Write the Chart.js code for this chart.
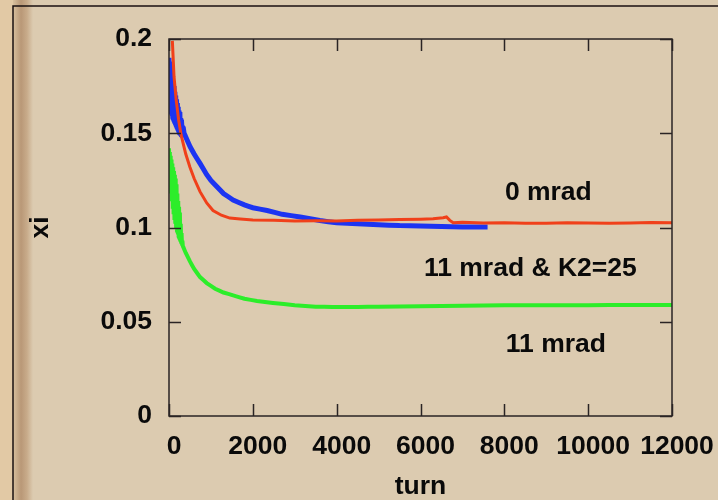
<!DOCTYPE html>
<html>
<head>
<meta charset="utf-8">
<script src="https://cdn.jsdelivr.net/npm/chart.js@4"></script>
<style>
html,body{margin:0;padding:0;background:#dccbb0;}
#wrap{width:718px;height:500px;position:relative;}
</style>
</head>
<body>
<div id="wrap"><canvas id="c" width="718" height="500"></canvas></div>
<script>
// ---- data ----
const xTickValues = [0, 2000, 4000, 6000, 8000, 10000, 12000];
const yTickValues = [0, 0.05, 0.1, 0.15, 0.2];
const yTickLabels = ['0', '0.05', '0.1', '0.15', '0.2'];

// 0 mrad (red)
const redTurns  = [80, 120, 170, 230, 290, 400, 500, 600, 740, 900, 1050, 1250, 1450, 1700, 2000, 2500, 3000, 3500, 4000, 4500, 5000, 5500, 6000, 6300, 6540, 6620, 6700, 6780, 7000, 7500, 8000, 8500, 9000, 9500, 10000, 10500, 11000, 11500, 12000];
const redXi     = [0.199, 0.180, 0.168, 0.157, 0.149, 0.139, 0.132, 0.126, 0.119, 0.113, 0.109, 0.1065, 0.105, 0.1045, 0.104, 0.1038, 0.1035, 0.1036, 0.1035, 0.1038, 0.104, 0.1042, 0.1044, 0.1046, 0.1052, 0.1056, 0.1038, 0.1025, 0.1028, 0.1024, 0.1025, 0.1022, 0.1023, 0.1025, 0.1024, 0.1022, 0.1024, 0.1026, 0.1025];

// 11 mrad & K2=25 (blue) - noisy band at the start
const blueTurns = [0, 10, 20, 30, 40, 50, 60, 70, 80, 90, 100, 110, 120, 130, 140, 150, 160, 170, 180, 190, 200, 210, 220, 230, 240, 250, 260, 270, 280, 290, 300, 320, 340, 360, 400, 500, 600, 740, 900, 1000, 1150, 1300, 1530, 1800, 2000, 2340, 2700, 3130, 3600, 4000, 4500, 5000, 5500, 6000, 6500, 7000, 7600];
const blueXi    = [0.190, 0.165, 0.188, 0.163, 0.186, 0.161, 0.184, 0.160, 0.180, 0.158, 0.177, 0.157, 0.175, 0.156, 0.172, 0.155, 0.170, 0.154, 0.168, 0.153, 0.166, 0.152, 0.164, 0.151, 0.162, 0.150, 0.160, 0.150, 0.158, 0.149, 0.156, 0.149, 0.153, 0.150, 0.148, 0.143, 0.139, 0.134, 0.128, 0.125, 0.1215, 0.118, 0.1146, 0.112, 0.1105, 0.109, 0.107, 0.1056, 0.1037, 0.1025, 0.102, 0.1015, 0.101, 0.1008, 0.1005, 0.1003, 0.1003];

// 11 mrad (green) - noisy band at the start
const greenTurns = [0, 10, 20, 30, 40, 50, 60, 70, 80, 90, 100, 110, 120, 130, 140, 150, 160, 170, 180, 190, 200, 210, 220, 230, 240, 250, 260, 270, 280, 290, 300, 310, 320, 330, 340, 400, 500, 600, 740, 900, 1100, 1300, 1530, 1800, 2100, 2480, 3000, 3500, 3900, 4500, 5000, 6000, 7000, 8000, 9000, 10000, 11000, 12000];
const greenXi    = [0.142, 0.126, 0.140, 0.122, 0.138, 0.118, 0.136, 0.114, 0.134, 0.110, 0.132, 0.107, 0.130, 0.104, 0.128, 0.102, 0.126, 0.100, 0.123, 0.098, 0.118, 0.097, 0.114, 0.095, 0.111, 0.094, 0.108, 0.093, 0.102, 0.092, 0.097, 0.091, 0.093, 0.090, 0.0897, 0.0865, 0.082, 0.078, 0.0737, 0.0705, 0.0675, 0.0655, 0.064, 0.0622, 0.061, 0.060, 0.0588, 0.058, 0.0578, 0.0578, 0.058, 0.0582, 0.0585, 0.0587, 0.0588, 0.0588, 0.0589, 0.0589];

const seriesNames = ['0 mrad', '11 mrad & K2=25', '11 mrad'];
// annotation anchor positions (turn, xi)
const labelTurns = [9050, 8620, 9230];
const labelXi    = [0.1184, 0.0784, 0.0378];

const pts = (xs, ys) => xs.map((x, i) => ({x, y: ys[i]}));

const FONT = '"Liberation Sans", Arial, sans-serif';
const FSIZE = 26.5;

const decor = {
  id: 'decor',
  beforeDraw(chart) {
    const ctx = chart.ctx;
    ctx.save();
    ctx.fillStyle = '#dccbb0';
    ctx.fillRect(0, 0, 718, 500);
    // left tan strip
    ctx.fillStyle = '#e2c9a5';
    ctx.fillRect(0, 0, 13, 500);
    const g = ctx.createLinearGradient(13, 0, 33, 0);
    g.addColorStop(0, '#d8c09e');
    g.addColorStop(0.4, '#b99877');
    g.addColorStop(0.7, '#c8ab8a');
    g.addColorStop(1, '#dccbb0');
    ctx.fillStyle = g;
    ctx.fillRect(13, 0, 20, 500);
    // outer frame
    ctx.strokeStyle = '#1a1010';
    ctx.lineWidth = 1.5;
    ctx.beginPath();
    ctx.moveTo(13, 510);
    ctx.lineTo(13, 6);
    ctx.lineTo(730, 6);
    ctx.stroke();
    ctx.restore();
  },
  afterDatasetsDraw(chart) {
    const ctx = chart.ctx;
    const a = chart.chartArea;
    const xs = chart.scales.x, ys = chart.scales.y;
    ctx.save();
    ctx.strokeStyle = '#2a2424';
    ctx.lineWidth = 1.5;
    ctx.strokeRect(a.left, a.top, a.right - a.left, a.bottom - a.top);
    ctx.beginPath();
    const tl = 12;
    xTickValues.forEach(v => {
      const px = Math.round(xs.getPixelForValue(v)) + 0.5;
      ctx.moveTo(px, a.bottom); ctx.lineTo(px, a.bottom - tl);
      ctx.moveTo(px, a.top); ctx.lineTo(px, a.top + tl);
    });
    yTickValues.forEach(v => {
      const py = Math.round(ys.getPixelForValue(v)) + 0.5;
      ctx.moveTo(a.left, py); ctx.lineTo(a.left + tl, py);
      ctx.moveTo(a.right, py); ctx.lineTo(a.right - tl, py);
    });
    ctx.stroke();
    // annotations
    ctx.fillStyle = '#0a0a0a';
    ctx.font = 'bold ' + FSIZE + 'px ' + FONT;
    ctx.textAlign = 'center';
    ctx.textBaseline = 'middle';
    seriesNames.forEach((n, i) => {
      ctx.fillText(n, xs.getPixelForValue(labelTurns[i]), ys.getPixelForValue(labelXi[i]));
    });
    ctx.restore();
  }
};

new Chart(document.getElementById('c'), {
  type: 'line',
  data: {
    datasets: [
      {label: seriesNames[2], data: pts(greenTurns, greenXi), borderColor: '#2ced2a', borderWidth: 4, pointRadius: 0, tension: 0.01},
      {label: seriesNames[0], data: pts(redTurns, redXi), borderColor: '#f0401a', borderWidth: 3, pointRadius: 0, tension: 0},
      {label: seriesNames[1], data: pts(blueTurns, blueXi), borderColor: '#1c34f2', borderWidth: 5, pointRadius: 0, tension: 0.01}
    ]
  },
  options: {
    responsive: false,
    animation: false,
    events: [],
    layout: {padding: {left: 0, right: 46, top: 39, bottom: 0}},
    plugins: {legend: {display: false}, tooltip: {enabled: false}},
    scales: {
      x: {
        type: 'linear', min: 0, max: 12000,
        afterBuildTicks: s => { s.ticks = xTickValues.map(v => ({value: v})); },
        afterFit: s => { s.height = 84; s.paddingLeft = 0; s.paddingRight = 0; },
        grid: {display: false, drawTicks: false},
        border: {display: false},
        ticks: {color: '#0a0a0a', font: {family: FONT, size: FSIZE, weight: 'bold'}, padding: 15, labelOffset: 5, maxRotation: 0, autoSkip: false,
                callback: v => String(v)},
        title: {display: true, text: 'turn', color: '#0a0a0a', font: {family: FONT, size: FSIZE, weight: 'bold', lineHeight: 1}, padding: {top: 0, bottom: 0}}
      },
      y: {
        type: 'linear', min: 0, max: 0.2,
        afterBuildTicks: s => { s.ticks = yTickValues.map(v => ({value: v})); },
        afterFit: s => { s.width = 169; s.paddingTop = 0; s.paddingBottom = 0; },
        grid: {display: false, drawTicks: false},
        border: {display: false},
        ticks: {color: '#0a0a0a', font: {family: FONT, size: FSIZE, weight: 'bold'}, padding: 17, autoSkip: false,
                callback: (v) => yTickLabels[yTickValues.indexOf(v)] ?? String(v)},
        title: {display: true, text: 'xi', color: '#0a0a0a', font: {family: FONT, size: FSIZE, weight: 'bold', lineHeight: 1}, padding: {top: 27, bottom: 0}}
      }
    }
  },
  plugins: [decor]
});
</script>
</body>
</html>
